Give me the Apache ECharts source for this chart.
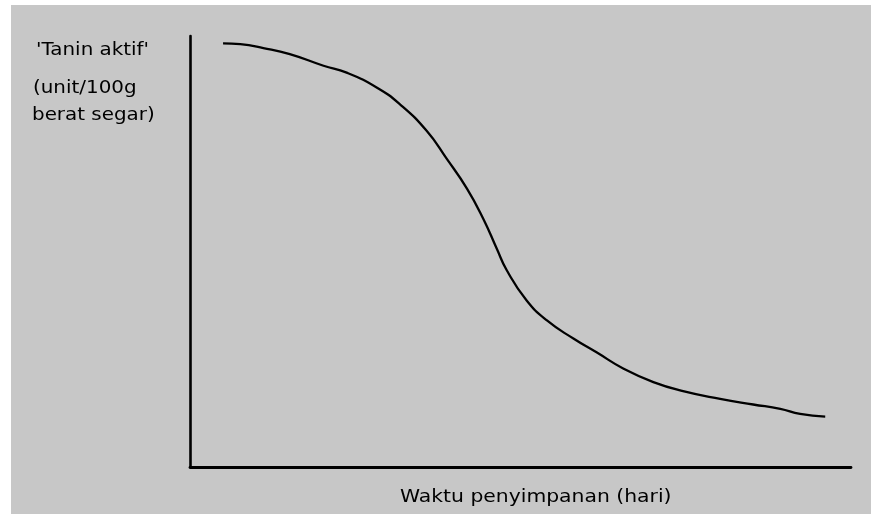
<!DOCTYPE html>
<html>
<head>
<meta charset="utf-8">
<script src="https://cdn.jsdelivr.net/npm/echarts@6/dist/echarts.min.js"></script>
<style>
html,body{margin:0;padding:0;background:#fff;}
#c{width:871px;height:514px;}
</style>
</head>
<body>
<div id="c"></div>
<script>
// Storage time (relative units) and active tannin (relative units)
const waktu = [5.0, 7.6, 11.1, 15.1, 20.2, 23.7, 28.3, 31.8, 35.8, 38.8, 41.9, 44.4, 46.4, 47.9, 50.9, 54.0, 58.0, 61.5, 65.6, 70.1, 74.6, 80.2, 85.2, 89.3, 92.3, 96.1];
const tanin = [98.3, 98.1, 97.2, 95.8, 93.1, 91.5, 88.0, 84.1, 78.0, 71.6, 64.6, 57.5, 50.7, 45.7, 38.7, 34.0, 29.8, 26.6, 22.8, 19.7, 17.6, 15.8, 14.5, 13.5, 12.3, 11.7];
const yLabel = ["'Tanin aktif'", "(unit/100g", "berat segar)"];
const xLabel = "Waktu penyimpanan (hari)";

const chart = echarts.init(document.getElementById('c'));
const font = '"DejaVu Sans", "Liberation Sans", Arial, sans-serif';
const yLabelPos = [[36, 51], [33, 88.5], [32, 116]];
const graphics = [
  { type: 'rect', z: -10, left: 11, top: 5, shape: { width: 860, height: 509 }, style: { fill: '#c7c7c7' } },
  { type: 'text', x: 400, y: 497, scaleX: 1.13, style: { text: xLabel, fill: '#000', font: '18px ' + font, align: 'left', verticalAlign: 'middle' } }
];
yLabel.forEach((t, i) => {
  graphics.push({ type: 'text', x: yLabelPos[i][0], y: yLabelPos[i][1], scaleX: 1.17,
    style: { text: t, fill: '#000', font: '17px ' + font, align: 'left', verticalAlign: 'middle' } });
});

chart.setOption({
  backgroundColor: 'transparent',
  animation: false,
  graphic: graphics,
  grid: { left: 190, top: 36, right: 20, bottom: 47 },
  xAxis: {
    type: 'value', min: 0, max: 100,
    axisLine: { show: true, onZero: false, lineStyle: { color: '#000', width: 2.8 } },
    axisTick: { show: false }, axisLabel: { show: false }, splitLine: { show: false }
  },
  yAxis: {
    type: 'value', min: 0, max: 100,
    axisLine: { show: true, onZero: false, lineStyle: { color: '#000', width: 2.6 } },
    axisTick: { show: false }, axisLabel: { show: false }, splitLine: { show: false }
  },
  series: [{
    type: 'line',
    data: waktu.map((x, i) => [x, tanin[i]]),
    smooth: true,
    showSymbol: false,
    lineStyle: { color: '#000', width: 2.3 }
  }]
});
</script>
</body>
</html>
